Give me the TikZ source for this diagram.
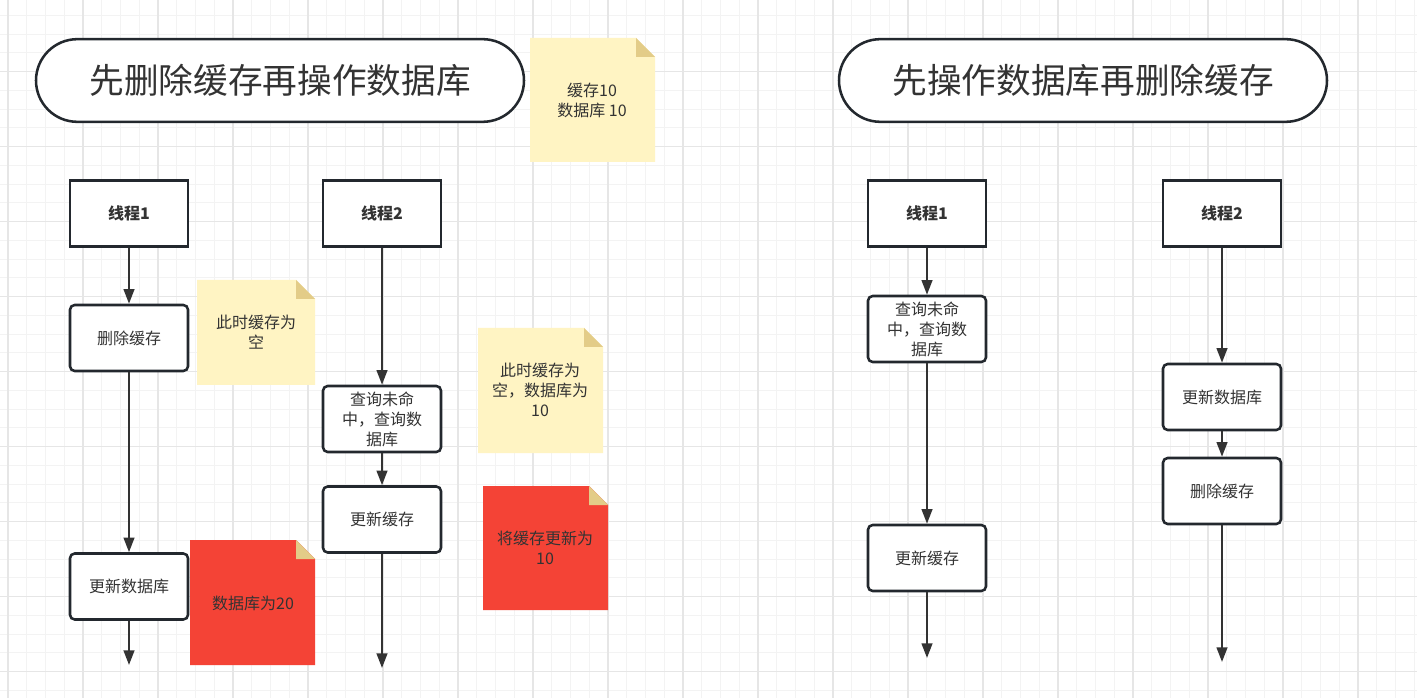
\documentclass[tikz,border=0pt]{standalone}
\usepackage{fontspec}
\setmainfont{Noto Sans CJK SC}
\usetikzlibrary{arrows.meta}
\definecolor{notey}{HTML}{FFF4C3}
\definecolor{foldy}{HTML}{E3CC88}
\definecolor{notered}{HTML}{F44336}
\definecolor{boxline}{HTML}{23282E}
\definecolor{txtgray}{HTML}{333333}
\definecolor{gridmin}{HTML}{F3F3F3}
\definecolor{gridmaj}{HTML}{E6E6E6}
\tikzset{every node/.append style={align=center},
  titlebox/.style={draw=boxline, line width=1.9pt, fill=white, rounded corners=31pt,
                   minimum width=366pt, minimum height=62pt, text=txtgray,
                   font=\fontsize{26pt}{32pt}\selectfont},
  thread/.style={draw=boxline, line width=1.9pt, fill=white, minimum width=88.5pt,
                 minimum height=49.5pt, text=txtgray,
                 font=\fontsize{12pt}{15pt}\selectfont\bfseries},
  stepbox/.style={thread, rounded corners=3.5pt, font=\fontsize{12pt}{15pt}\selectfont},
  notetext/.style={text=txtgray, font=\fontsize{12pt}{15pt}\selectfont},
  flow/.style={draw=txtgray, line width=1.7pt, -{Triangle[length=11pt,width=8pt]}},
  gridminor/.style={draw=gridmin, line width=0.75pt},
  gridmajor/.style={draw=gridmaj, line width=0.9pt}}

\begin{document}
\begin{tikzpicture}[x=0.75pt,y=-0.75pt]

% ── Canvas and grid ──────────────────────────────────────────────────────────
\useasboundingbox (0,0) rectangle (1417,698);
\fill[white] (0,0) rectangle (1417,698);
\foreach \i in {0,...,75}
  \draw[gridminor] (8+\i*18.75,0) -- (8+\i*18.75,698);
\foreach \j in {0,...,36}
  \draw[gridminor] (0,15.45+\j*18.75) -- (1417,15.45+\j*18.75);
\foreach \i in {0,...,18}
  \draw[gridmajor] (8+\i*75,0) -- (8+\i*75,698);
\foreach \j in {0,...,8}
  \draw[gridmajor] (0,71.7+\j*75) -- (1417,71.7+\j*75);

% ── Notes ────────────────────────────────────────────────────────────────────
\foreach \xa/\ya/\xb/\yb/\col in {
    530/38/655/162/notey,
    197/280/315/385/notey,
    478/328/603/453/notey,
    190/540/315/665/notered,
    483/486/608/610/notered}
{
  \fill[\col] (\xa,\ya) -- (\xb-19,\ya) -- (\xb,\ya+19) -- (\xb,\yb) -- (\xa,\yb) -- cycle;
  \fill[foldy] (\xb-19,\ya) -- (\xb-19,\ya+19) -- (\xb,\ya+19) -- cycle;
}
\node[notetext] (nstart) at (592,100) {缓存10\\数据库 10};
\node[notetext] (nempty) at (256,332) {此时缓存为\\空};
\node[notetext] (nread) at (540,390) {此时缓存为\\空，数据库为\\10};
\node[notetext] (ndb) at (253,603) {数据库为20};
\node[notetext] (nset) at (545,548) {将缓存更新为\\10};

% ── Left: delete cache, then write db ───────────────────────────────────────
\node[titlebox] (ltitle) at (280,80.5) {先删除缓存再操作数据库};

\node[thread] (lt1) at (129,213.5) {线程1};
\node[stepbox] (ldel) at (129,338) {删除缓存};
\node[stepbox] (ldb) at (129,586.5) {更新数据库};
\coordinate (lend1) at (129,665);

\node[thread] (lt2) at (382,213.5) {线程2};
\node[stepbox] (lqry) at (382,419) {查询未命\\中，查询数\\据库};
\node[stepbox] (lset) at (382,519.5) {更新缓存};
\coordinate (lend2) at (382,668);

\draw[flow] (lt1) -- (ldel);
\draw[flow] (ldel) -- (ldb);
\draw[flow] (ldb) -- (lend1);
\draw[flow] (lt2) -- (lqry);
\draw[flow] (lqry) -- (lset);
\draw[flow] (lset) -- (lend2);

% ── Right: write db, then delete cache ──────────────────────────────────────
\node[titlebox] (rtitle) at (1083,80.5) {先操作数据库再删除缓存};

\node[thread] (rt1) at (927,213.5) {线程1};
\node[stepbox] (rqry) at (927,329) {查询未命\\中，查询数\\据库};
\node[stepbox] (rset) at (927,558) {更新缓存};
\coordinate (rend1) at (927,658);

\node[thread] (rt2) at (1222,213.5) {线程2};
\node[stepbox] (rdb) at (1222,397) {更新数据库};
\node[stepbox] (rdel) at (1222,491) {删除缓存};
\coordinate (rend2) at (1222,662);

\draw[flow] (rt1) -- (rqry);
\draw[flow] (rqry) -- (rset);
\draw[flow] (rset) -- (rend1);
\draw[flow] (rt2) -- (rdb);
\draw[flow] (rdb) -- (rdel);
\draw[flow] (rdel) -- (rend2);

\end{tikzpicture}
\end{document}
